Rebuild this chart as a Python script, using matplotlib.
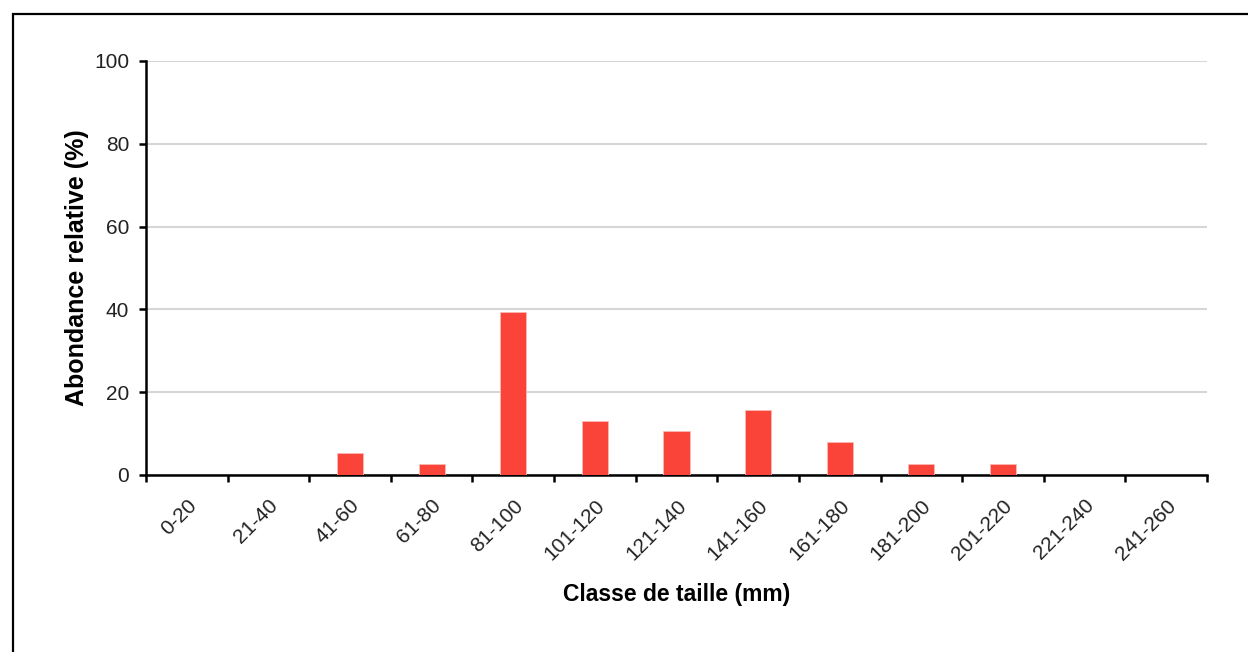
import matplotlib
matplotlib.use("Agg")
import matplotlib.pyplot as plt
import matplotlib.transforms as mtransforms
from matplotlib.patches import Rectangle
import numpy as np

categories = ["0-20", "21-40", "41-60", "61-80", "81-100", "101-120", "121-140",
              "141-160", "161-180", "181-200", "201-220", "221-240", "241-260"]
values = [0, 0, 5.26, 2.63, 39.47, 13.16, 10.53, 15.79, 7.89, 2.63, 2.63, 0, 0]
yticks = [0, 20, 40, 60, 80, 100]

plt.rcParams['font.family'] = ['Liberation Sans', 'DejaVu Sans']

W, H = 1248, 652
fig = plt.figure(figsize=(W / 100, H / 100), dpi=100)
fig.patches.append(Rectangle((13 / W, -0.1), 1.2, 1 - 14 / H + 0.1, transform=fig.transFigure,
                             fill=False, edgecolor='black', linewidth=1.6, zorder=0))

ax = fig.add_axes([146 / W, (H - 475) / H, (1207 - 146) / W, (475 - 61) / H])
x = np.arange(len(categories))
ax.bar(x, values, width=0.32, color='#FA4339', edgecolor='#FDB9B3', linewidth=0.6, zorder=3)

ax.set_xlim(-0.5, len(categories) - 0.5)
ax.set_ylim(0, 100)
ax.set_yticks(yticks)
ax.set_yticklabels([str(v) for v in yticks], fontsize=15, color='#222222')
ax.yaxis.grid(True, color='#D6D6D6', linewidth=1.5, zorder=0)
ax.set_axisbelow(True)

ax.set_xticks(np.arange(len(categories) + 1) - 0.5, minor=False)
ax.set_xticklabels([])
ax.set_xticks(x, minor=True)
ax.set_xticklabels(categories, minor=True, rotation=45, ha='right', rotation_mode='anchor',
                   fontsize=15, color='#222222')
offset = mtransforms.ScaledTranslation(-4 / 100, 0, fig.dpi_scale_trans)
for lbl in ax.get_xticklabels(minor=True):
    lbl.set_transform(lbl.get_transform() + offset)
ax.tick_params(axis='x', which='minor', length=0, pad=15)
ax.tick_params(axis='x', which='major', length=5, width=1.8, direction='out')
ax.tick_params(axis='y', length=5, width=1.8, direction='out', pad=7)

for s in ['top', 'right']:
    ax.spines[s].set_visible(False)
for s in ['left', 'bottom']:
    ax.spines[s].set_linewidth(1.8)

ax.set_ylabel("Abondance relative (%)", fontsize=18, fontweight='bold', labelpad=4)
ax.set_xlabel("Classe de taille (mm)", fontsize=16.5, fontweight='bold', labelpad=14)

fig.savefig("out.png", dpi=100)
